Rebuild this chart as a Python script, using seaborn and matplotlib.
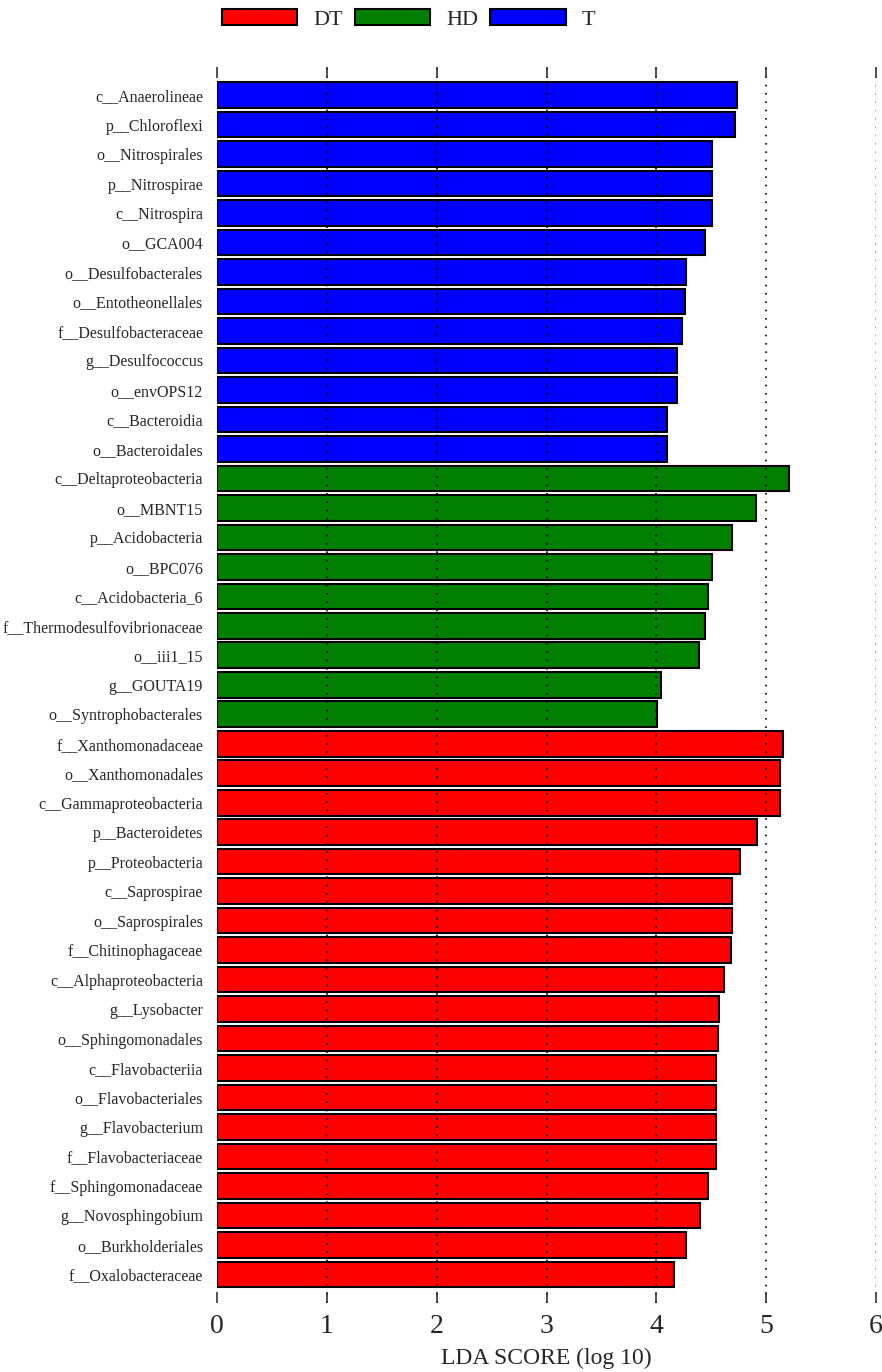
import pandas as pd
import matplotlib.pyplot as plt
import seaborn as sns

# taxa and LDA scores, top to bottom as shown in the chart
t_taxa = ['c__Anaerolineae', 'p__Chloroflexi', 'o__Nitrospirales', 'p__Nitrospirae',
          'c__Nitrospira', 'o__GCA004', 'o__Desulfobacterales', 'o__Entotheonellales',
          'f__Desulfobacteraceae', 'g__Desulfococcus', 'o__envOPS12', 'c__Bacteroidia',
          'o__Bacteroidales']
t_scores = [4.73, 4.72, 4.51, 4.51, 4.51, 4.44, 4.27, 4.26, 4.23, 4.19, 4.19, 4.10, 4.10]

hd_taxa = ['c__Deltaproteobacteria', 'o__MBNT15', 'p__Acidobacteria', 'o__BPC076',
           'c__Acidobacteria_6', 'f__Thermodesulfovibrionaceae', 'o__iii1_15',
           'g__GOUTA19', 'o__Syntrophobacterales']
hd_scores = [5.21, 4.91, 4.69, 4.51, 4.47, 4.44, 4.39, 4.04, 4.01]

dt_taxa = ['f__Xanthomonadaceae', 'o__Xanthomonadales', 'c__Gammaproteobacteria',
           'p__Bacteroidetes', 'p__Proteobacteria', 'c__Saprospirae', 'o__Saprospirales',
           'f__Chitinophagaceae', 'c__Alphaproteobacteria', 'g__Lysobacter',
           'o__Sphingomonadales', 'c__Flavobacteriia', 'o__Flavobacteriales',
           'g__Flavobacterium', 'f__Flavobacteriaceae', 'f__Sphingomonadaceae',
           'g__Novosphingobium', 'o__Burkholderiales', 'f__Oxalobacteraceae']
dt_scores = [5.15, 5.13, 5.13, 4.92, 4.76, 4.69, 4.69, 4.68, 4.62, 4.57,
             4.56, 4.54, 4.54, 4.54, 4.54, 4.47, 4.40, 4.27, 4.16]

groups = ['DT', 'HD', 'T']
colors = {'DT': '#ff0000', 'HD': '#007f00', 'T': '#0000ff'}

df = pd.DataFrame({
    'taxon': t_taxa + hd_taxa + dt_taxa,
    'score': t_scores + hd_scores + dt_scores,
    'group': ['T'] * len(t_taxa) + ['HD'] * len(hd_taxa) + ['DT'] * len(dt_taxa),
})

sns.set_style('white')
plt.rcParams['font.family'] = ['Liberation Serif', 'DejaVu Serif']

fig = plt.figure(figsize=(8.82, 13.72), dpi=100)
ax = fig.add_axes([217 / 882, 1 - 1303 / 1372, (876 - 217) / 882, (1303 - 67) / 1372])

sns.barplot(data=df, x='score', y='taxon', hue='group', hue_order=groups,
            palette=colors, dodge=False, width=0.87, orient='h',
            edgecolor='black', linewidth=1.5, saturation=1, ax=ax)

n = len(df)
ax.set_xlim(0, 6)
ax.set_ylim(n - 1 + 0.97, -0.955)
ax.set_xticks(range(7))
for s in ax.spines.values():
    s.set_visible(False)

# dotted reference lines drawn over the bars
ax.set_axisbelow(False)
ax.grid(axis='x', linestyle=(0, (1, 4)), color='black', linewidth=1.2)
ax.grid(axis='y', visible=False)
gl = ax.xaxis.get_gridlines()
gl[0].set_visible(False)
gl[6].set_color('#888888')

ax.tick_params(axis='x', which='both', direction='in', length=8, width=1.2,
               color='#333333', top=True, bottom=True, labeltop=False,
               labelsize=20, pad=8)
ax.tick_params(axis='y', length=0, labelsize=11.5, pad=10)
ax.set_ylabel('')
ax.set_xlabel('LDA SCORE (log 10)', fontsize=17, labelpad=6)

handles, labels = ax.get_legend_handles_labels()
ax.get_legend().remove()
fig.legend(handles, labels, loc='center', bbox_to_anchor=(0.463, 1 - 19.5 / 1372),
           ncol=3, frameon=False, fontsize=16, handlelength=3.4, handleheight=0.75,
           columnspacing=0.55, handletextpad=0.7)

plt.savefig('out.png', dpi=100)
plt.close()
